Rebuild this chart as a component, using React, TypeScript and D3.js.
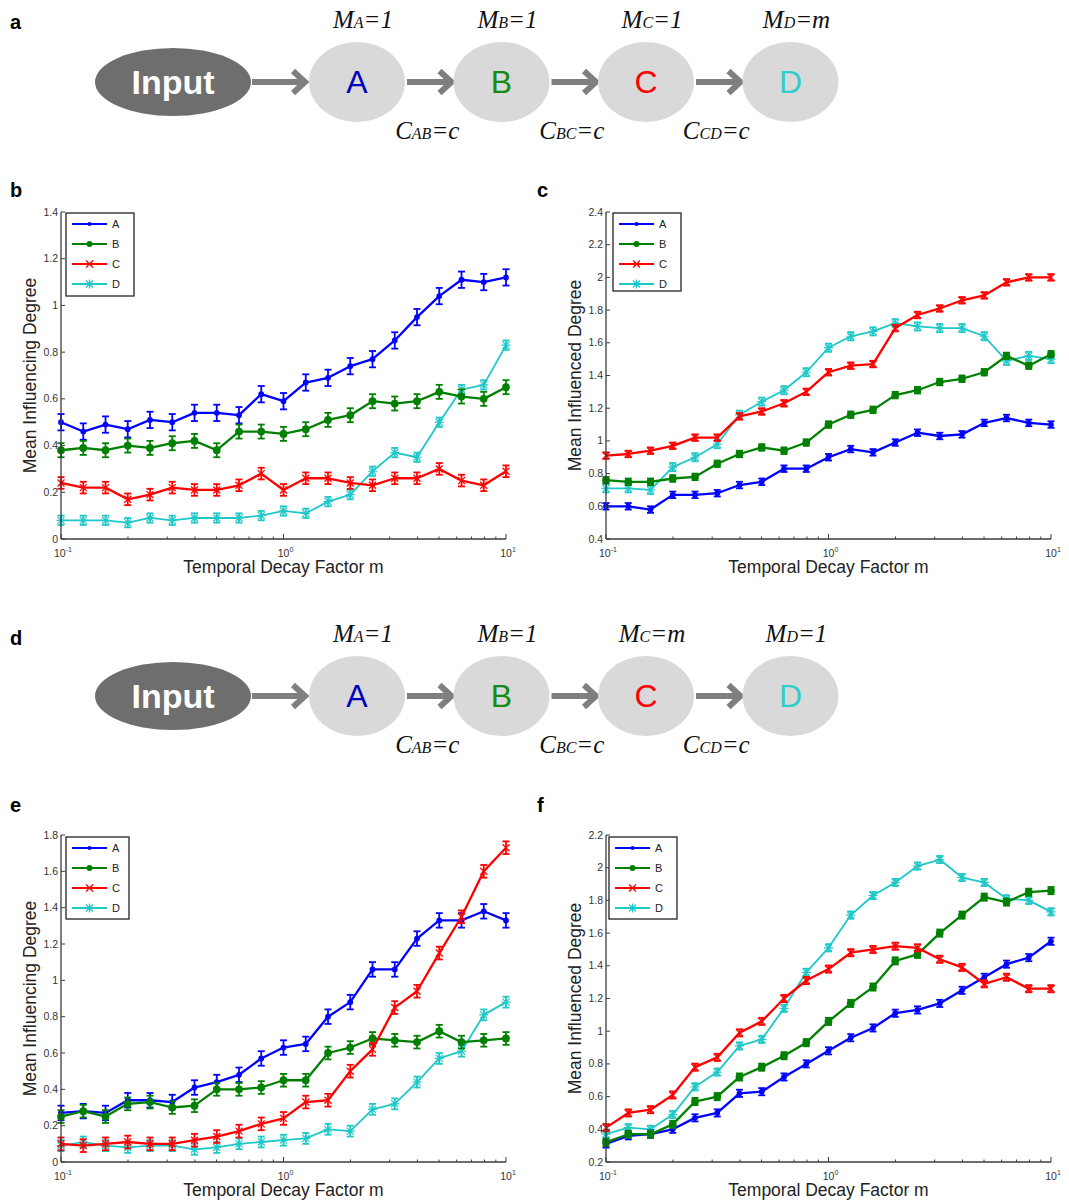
import React from 'react';
import * as d3 from 'd3';

// x values: temporal decay factor m, log spaced 10^-1 .. 10^1
const mValues = [0.1, 0.1259, 0.1585, 0.1995, 0.2512, 0.3162, 0.3981, 0.5012, 0.631, 0.7943, 1, 1.259, 1.585, 1.995, 2.512, 3.162, 3.981, 5.012, 6.31, 7.943, 10];
const nodeNames = ['A', 'B', 'C', 'D'];
const lineColors = ['#0000ff', '#008000', '#ff0000', '#1fc8c8'];
const letterColors = ['#0000c0', '#168a16', '#ff0000', '#33cccc'];

// panel b: mean influencing degree, M_D = m
const bA = [0.50, 0.46, 0.49, 0.47, 0.51, 0.50, 0.54, 0.54, 0.53, 0.62, 0.59, 0.67, 0.69, 0.74, 0.77, 0.85, 0.95, 1.04, 1.11, 1.10, 1.12];
const bB = [0.38, 0.39, 0.38, 0.40, 0.39, 0.41, 0.42, 0.38, 0.46, 0.46, 0.45, 0.47, 0.51, 0.53, 0.59, 0.58, 0.59, 0.63, 0.61, 0.60, 0.65];
const bC = [0.24, 0.22, 0.22, 0.17, 0.19, 0.22, 0.21, 0.21, 0.23, 0.28, 0.21, 0.26, 0.26, 0.24, 0.23, 0.26, 0.26, 0.30, 0.25, 0.23, 0.29];
const bD = [0.08, 0.08, 0.08, 0.07, 0.09, 0.08, 0.09, 0.09, 0.09, 0.10, 0.12, 0.11, 0.16, 0.19, 0.29, 0.37, 0.35, 0.50, 0.64, 0.66, 0.83];
const bErr = [0.035, 0.03, 0.025, 0.02];

// panel c: mean influenced degree, M_D = m
const cA = [0.60, 0.60, 0.58, 0.67, 0.67, 0.68, 0.73, 0.75, 0.83, 0.83, 0.90, 0.95, 0.93, 0.99, 1.05, 1.03, 1.04, 1.11, 1.14, 1.11, 1.10];
const cB = [0.76, 0.75, 0.75, 0.77, 0.78, 0.86, 0.92, 0.96, 0.94, 0.99, 1.10, 1.16, 1.19, 1.28, 1.31, 1.36, 1.38, 1.42, 1.52, 1.46, 1.53];
const cC = [0.91, 0.92, 0.94, 0.97, 1.02, 1.02, 1.15, 1.18, 1.23, 1.30, 1.42, 1.46, 1.47, 1.69, 1.77, 1.81, 1.86, 1.89, 1.97, 2.00, 2.00];
const cD = [0.71, 0.71, 0.70, 0.84, 0.90, 0.98, 1.16, 1.24, 1.31, 1.42, 1.57, 1.64, 1.67, 1.72, 1.70, 1.69, 1.69, 1.64, 1.49, 1.52, 1.50];
const cErr = [0.02, 0.02, 0.02, 0.025];

// panel e: mean influencing degree, M_C = m
const eA = [0.27, 0.28, 0.27, 0.34, 0.34, 0.33, 0.41, 0.44, 0.48, 0.57, 0.63, 0.65, 0.80, 0.88, 1.06, 1.06, 1.23, 1.33, 1.33, 1.38, 1.33];
const eB = [0.25, 0.28, 0.25, 0.32, 0.33, 0.30, 0.31, 0.40, 0.40, 0.41, 0.45, 0.45, 0.60, 0.63, 0.68, 0.67, 0.66, 0.72, 0.66, 0.67, 0.68];
const eC = [0.10, 0.09, 0.10, 0.11, 0.10, 0.10, 0.12, 0.14, 0.17, 0.21, 0.24, 0.33, 0.34, 0.50, 0.62, 0.85, 0.94, 1.15, 1.35, 1.60, 1.73];
const eD = [0.09, 0.11, 0.09, 0.08, 0.09, 0.09, 0.07, 0.08, 0.10, 0.11, 0.12, 0.13, 0.18, 0.17, 0.29, 0.32, 0.44, 0.57, 0.61, 0.81, 0.88];
const eErr = [0.04, 0.035, 0.035, 0.03];

// panel f: mean influenced degree, M_C = m
const fA = [0.31, 0.36, 0.37, 0.40, 0.47, 0.50, 0.62, 0.63, 0.72, 0.80, 0.88, 0.96, 1.02, 1.11, 1.13, 1.17, 1.25, 1.33, 1.41, 1.45, 1.55];
const fB = [0.32, 0.37, 0.37, 0.43, 0.57, 0.60, 0.72, 0.78, 0.85, 0.93, 1.06, 1.17, 1.27, 1.43, 1.47, 1.60, 1.71, 1.82, 1.79, 1.85, 1.86];
const fC = [0.41, 0.50, 0.52, 0.61, 0.78, 0.84, 0.99, 1.06, 1.20, 1.31, 1.38, 1.48, 1.50, 1.52, 1.51, 1.44, 1.39, 1.29, 1.33, 1.26, 1.26];
const fD = [0.37, 0.41, 0.40, 0.49, 0.66, 0.75, 0.91, 0.95, 1.14, 1.36, 1.51, 1.71, 1.83, 1.91, 2.01, 2.05, 1.94, 1.91, 1.81, 1.80, 1.73];
const fErr = [0.022, 0.022, 0.022, 0.022];

const ticksInfluencing14 = [0, 0.2, 0.4, 0.6, 0.8, 1, 1.2, 1.4];
const ticksInfluenced24 = [0.4, 0.6, 0.8, 1, 1.2, 1.4, 1.6, 1.8, 2, 2.2, 2.4];
const ticksInfluencing18 = [0, 0.2, 0.4, 0.6, 0.8, 1, 1.2, 1.4, 1.6, 1.8];
const ticksInfluenced22 = [0.2, 0.4, 0.6, 0.8, 1, 1.2, 1.4, 1.6, 1.8, 2, 2.2];

const diagramA = { m: ['1', '1', '1', 'm'] };
const diagramD = { m: ['1', '1', 'm', '1'] };

const sans = '"Liberation Sans", Arial, sans-serif';
const serif = '"Liberation Serif", "Times New Roman", serif';
const axisColor = '#3c3c3c';

function Marker({ kind, x, y, color }) {
  if (kind === 0) return <circle cx={x} cy={y} r={2} fill={color} />;
  if (kind === 1) return <circle cx={x} cy={y} r={3} fill={color} />;
  const s = 3.5;
  const cross = `M${x - s},${y - s}L${x + s},${y + s}M${x - s},${y + s}L${x + s},${y - s}`;
  if (kind === 2) return <path d={cross} stroke={color} strokeWidth={1.3} />;
  return <path d={`${cross}M${x},${y - s - 1}L${x},${y + s + 1}M${x - s - 1},${y}L${x + s + 1},${y}`} stroke={color} strokeWidth={1.2} />;
}

function Chart({ left, top, right, bottom, yDomain, yTicks, yLabel, series, errs, legend }) {
  const x = d3.scaleLog().domain([0.1, 10]).range([left, right]);
  const y = d3.scaleLinear().domain(yDomain).range([bottom, top]);
  const line = d3.line<number>().x((_, i) => x(mValues[i])).y(d => y(d));
  const minor: number[] = [];
  [0.1, 1].forEach(dec => d3.range(2, 10).forEach(k => minor.push(dec * k)));
  const fmt = (v: number) => String(+v.toFixed(1));
  const order = [3, 0, 1, 2];
  return (
    <g>
      {order.map(si => (
        <g key={si}>
          <path d={line(series[si]) || ''} fill="none" stroke={lineColors[si]} strokeWidth={si === 3 ? 1.8 : 2.3} strokeLinejoin="round" />
          {series[si].map((v, i) => {
            const px = x(mValues[i]);
            const y1 = y(v - errs[si]);
            const y2 = y(v + errs[si]);
            return (
              <g key={i} stroke={lineColors[si]} strokeWidth={1.8}>
                <line x1={px} x2={px} y1={y1} y2={y2} />
                <line x1={px - 3.5} x2={px + 3.5} y1={y1} y2={y1} />
                <line x1={px - 3.5} x2={px + 3.5} y1={y2} y2={y2} />
                <Marker kind={si} x={px} y={y(v)} color={lineColors[si]} />
              </g>
            );
          })}
        </g>
      ))}
      {/* axes */}
      <line x1={left} x2={left} y1={top} y2={bottom} stroke={axisColor} strokeWidth={1.3} />
      <line x1={left} x2={right} y1={bottom} y2={bottom} stroke={axisColor} strokeWidth={1.3} />
      {yTicks.map(t => (
        <g key={t}>
          <line x1={left} x2={left + 4} y1={y(t)} y2={y(t)} stroke={axisColor} />
          <text x={left - 3} y={y(t) + 3.5} fontSize={10.5} fontFamily={sans} textAnchor="end" fill="#333">{fmt(t)}</text>
        </g>
      ))}
      {minor.map(t => (
        <line key={t} x1={x(t)} x2={x(t)} y1={bottom} y2={bottom - 2.5} stroke={axisColor} />
      ))}
      {[-1, 0, 1].map(p => (
        <g key={p}>
          <line x1={x(10 ** p)} x2={x(10 ** p)} y1={bottom} y2={bottom - 5} stroke={axisColor} />
          <text x={x(10 ** p) + 2} y={bottom + 18} fontSize={10.5} fontFamily={sans} textAnchor="middle" fill="#333">
            10<tspan fontSize={7} dy={-5}>{p}</tspan>
          </text>
        </g>
      ))}
      <text x={(left + right) / 2} y={bottom + 34} fontSize={17.5} fontFamily={sans} textAnchor="middle" fill="#222">Temporal Decay Factor m</text>
      <text transform={`translate(${left - 25},${(top + bottom) / 2}) rotate(-90)`} fontSize={17.5} fontFamily={sans} textAnchor="middle" fill="#222">{yLabel}</text>
      {/* legend */}
      <rect x={legend.x} y={legend.y} width={legend.w} height={legend.h} fill="#fff" stroke="#222" strokeWidth={1.3} />
      {nodeNames.map((n, i) => {
        const ly = legend.y + 11 + i * 20;
        return (
          <g key={n}>
            <line x1={legend.x + 6} x2={legend.x + 41} y1={ly} y2={ly} stroke={lineColors[i]} strokeWidth={2.2} />
            <Marker kind={i} x={legend.x + 23.5} y={ly} color={lineColors[i]} />
            <text x={legend.x + 46} y={ly + 4} fontSize={11} fontFamily={sans} fill="#222">{n}</text>
          </g>
        );
      })}
    </g>
  );
}

function Diagram({ cy, m }) {
  const step = 144.5;
  const cx0 = 357;
  const sub = (main: string, s: string, rest: string, x: number, yy: number, key: string) => (
    <text key={key} x={x} y={yy} fontSize={25} fontFamily={serif} fontStyle="italic" textAnchor="middle" fill="#111">
      {main}<tspan fontSize={16}>{s}</tspan>{rest}
    </text>
  );
  const arrow = (x1: number, x2: number, key: string) => (
    <g key={key} stroke="#7f7f7f" strokeWidth={6} fill="none">
      <line x1={x1} x2={x2 - 3} y1={cy} y2={cy} />
      <path d={`M${x2 - 12},${cy - 11}L${x2},${cy}L${x2 - 12},${cy + 11}`} strokeLinejoin="miter" />
    </g>
  );
  return (
    <g>
      <ellipse cx={173} cy={cy} rx={78} ry={34} fill="#6e6e6e" />
      <text x={173} y={cy + 12} fontSize={34} fontWeight="bold" fontFamily={sans} textAnchor="middle" fill="#fff">Input</text>
      {arrow(252, 305, 'in')}
      {nodeNames.map((n, i) => {
        const cx = cx0 + i * step;
        return (
          <g key={n}>
            <ellipse cx={cx} cy={cy} rx={48} ry={40} fill="#d9d9d9" />
            <text x={cx} y={cy + 11} fontSize={32} fontFamily={sans} textAnchor="middle" fill={letterColors[i]}>{n}</text>
            {sub('M', n, `=${m[i]}`, cx + 6, cy - 54, 'm' + n)}
            {i < 3 && arrow(cx + 50, cx + step - 50, 'a' + n)}
            {i < 3 && sub('C', n + nodeNames[i + 1], '=c', cx + step / 2 - 2, cy + 57, 'c' + n)}
          </g>
        );
      })}
    </g>
  );
}

const panelLetter = (t: string, x: number, y: number) => (
  <text x={x} y={y} fontSize={20} fontWeight="bold" fontFamily={sans} fill="#000">{t}</text>
);

export default function App() {
  return (
    <svg width={1069} height={1204} style={{ position: 'absolute', left: 0, top: 0, background: '#fff' }}>
      <rect width={1069} height={1204} fill="#fff" />
      {panelLetter('a', 10, 29)}
      {panelLetter('b', 10, 197)}
      {panelLetter('c', 537, 197)}
      {panelLetter('d', 10, 645)}
      {panelLetter('e', 10, 812)}
      {panelLetter('f', 537, 812)}
      <Diagram cy={82} m={diagramA.m} />
      <Diagram cy={696} m={diagramD.m} />
      <Chart left={61} top={212} right={506} bottom={539} yDomain={[0, 1.4]} yTicks={ticksInfluencing14}
        yLabel="Mean Influencing Degree" series={[bA, bB, bC, bD]} errs={bErr}
        legend={{ x: 66, y: 213, w: 68, h: 83 }} />
      <Chart left={606} top={212} right={1051} bottom={539} yDomain={[0.4, 2.4]} yTicks={ticksInfluenced24}
        yLabel="Mean Influenced Degree" series={[cA, cB, cC, cD]} errs={cErr}
        legend={{ x: 613, y: 213, w: 68, h: 78 }} />
      <Chart left={61} top={835} right={506} bottom={1162} yDomain={[0, 1.8]} yTicks={ticksInfluencing18}
        yLabel="Mean Influencing Degree" series={[eA, eB, eC, eD]} errs={eErr}
        legend={{ x: 66, y: 837, w: 63, h: 82 }} />
      <Chart left={606} top={835} right={1051} bottom={1162} yDomain={[0.2, 2.2]} yTicks={ticksInfluenced22}
        yLabel="Mean Influenced Degree" series={[fA, fB, fC, fD]} errs={fErr}
        legend={{ x: 609, y: 837, w: 68, h: 82 }} />
    </svg>
  );
}
